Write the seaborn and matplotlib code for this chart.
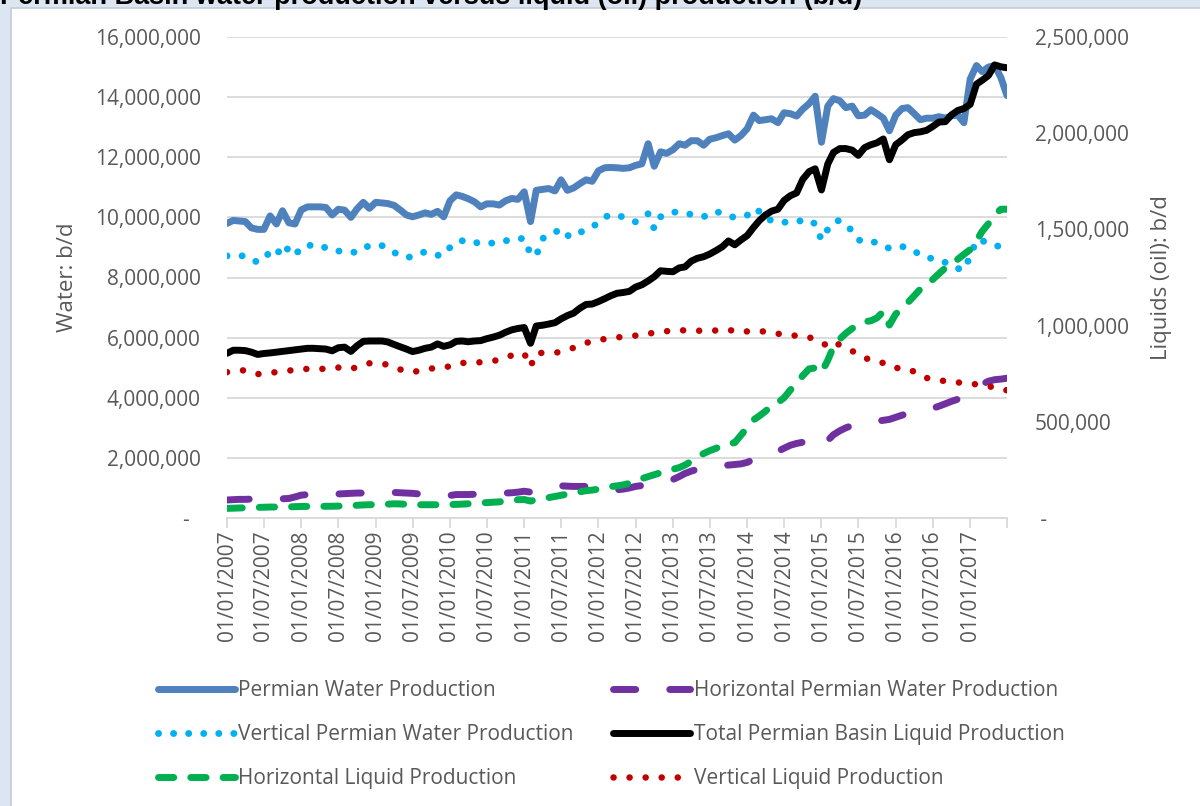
import numpy as np
import pandas as pd
import seaborn as sns
import matplotlib.pyplot as plt
from matplotlib.patches import Rectangle
from matplotlib.ticker import FuncFormatter

# monthly values, Jan 2007 .. Jul 2017
# water series in million b/d (left axis), liquids in thousand b/d (right axis)
permian_water = [
    9.80, 9.90, 9.88, 9.86, 9.65, 9.60, 9.60, 10.05, 9.78, 10.22,
    9.82, 9.78, 10.25, 10.35, 10.35, 10.35, 10.33, 10.08, 10.27, 10.24,
    10.00, 10.28, 10.50, 10.30, 10.50, 10.48, 10.46, 10.40, 10.25, 10.08,
    10.02, 10.08, 10.15, 10.10, 10.20, 10.02, 10.55, 10.75, 10.70, 10.62,
    10.52, 10.35, 10.45, 10.45, 10.41, 10.55, 10.63, 10.60, 10.85, 9.86,
    10.90, 10.93, 10.96, 10.88, 11.25, 10.90, 10.98, 11.12, 11.25, 11.20,
    11.55, 11.65, 11.66, 11.65, 11.63, 11.65, 11.73, 11.78, 12.45, 11.70,
    12.18, 12.13, 12.25, 12.45, 12.40, 12.55, 12.55, 12.40, 12.60, 12.65,
    12.72, 12.78, 12.57, 12.72, 12.95, 13.40, 13.22, 13.25, 13.28, 13.15,
    13.48, 13.45, 13.37, 13.60, 13.78, 14.03, 12.50, 13.70, 13.95, 13.88,
    13.65, 13.70, 13.38, 13.40, 13.58, 13.45, 13.30, 12.88, 13.40, 13.62,
    13.65, 13.45, 13.25, 13.30, 13.30, 13.35, 13.30, 13.38, 13.40, 13.15,
    14.60, 15.05, 14.85, 15.00, 15.05, 14.65, 14.05]

horiz_water = [
    0.60, 0.61, 0.62, 0.62, 0.63, 0.63, 0.64, 0.64, 0.64, 0.64,
    0.65, 0.70, 0.76, 0.78, 0.78, 0.78, 0.78, 0.79, 0.80, 0.81,
    0.82, 0.83, 0.83, 0.84, 0.85, 0.85, 0.85, 0.85, 0.84, 0.83,
    0.82, 0.80, 0.78, 0.74, 0.72, 0.72, 0.75, 0.78, 0.78, 0.78,
    0.79, 0.80, 0.80, 0.81, 0.82, 0.83, 0.84, 0.86, 0.89, 0.86,
    0.92, 0.96, 1.00, 1.04, 1.07, 1.06, 1.05, 1.05, 1.05, 1.00,
    0.96, 0.95, 0.94, 0.94, 0.96, 1.00, 1.05, 1.08, 1.12, 1.15,
    1.18, 1.21, 1.28, 1.38, 1.48, 1.56, 1.62, 1.66, 1.70, 1.72,
    1.74, 1.76, 1.78, 1.80, 1.85, 1.95, 2.05, 2.10, 2.16, 2.22,
    2.32, 2.42, 2.48, 2.52, 2.58, 2.60, 2.38, 2.58, 2.77, 2.90,
    3.00, 3.08, 3.15, 3.18, 3.20, 3.22, 3.25, 3.28, 3.35, 3.42,
    3.48, 3.52, 3.56, 3.60, 3.65, 3.72, 3.80, 3.88, 3.95, 4.00,
    4.10, 4.30, 4.45, 4.55, 4.60, 4.62, 4.65]

vert_water = [
    8.72, 8.72, 8.72, 8.72, 8.62, 8.50, 8.65, 8.84, 8.72, 9.10,
    8.90, 8.72, 9.02, 9.06, 9.08, 9.08, 8.98, 8.89, 8.88, 8.87,
    8.85, 8.83, 8.95, 9.07, 9.07, 9.06, 8.95, 8.83, 8.75, 8.66,
    8.70, 8.80, 8.85, 8.80, 8.74, 8.74, 9.00, 9.19, 9.22, 9.25,
    9.18, 9.12, 9.13, 9.15, 9.16, 9.22, 9.27, 9.29, 9.30, 8.77,
    8.72, 9.30, 9.37, 9.50, 9.62, 9.40, 9.35, 9.50, 9.58, 9.70,
    9.80, 10.00, 10.10, 10.05, 10.02, 9.95, 9.85, 10.00, 10.12, 9.62,
    10.02, 10.10, 10.18, 10.16, 10.13, 10.10, 10.06, 10.02, 10.12, 10.20,
    10.12, 10.04, 10.00, 10.04, 10.07, 10.30, 10.20, 9.95, 9.90, 9.84,
    9.84, 9.84, 9.86, 9.90, 9.92, 9.78, 9.25, 9.60, 9.85, 9.90,
    9.75, 9.55, 9.25, 9.20, 9.21, 9.15, 9.05, 8.97, 9.03, 9.03,
    8.98, 8.88, 8.75, 8.68, 8.62, 8.58, 8.50, 8.38, 8.30, 8.25,
    8.70, 9.25, 9.22, 9.15, 9.06, 9.03, 9.00]

total_liquid = [
    856, 872, 872, 870, 862, 850, 855, 858, 862, 866,
    870, 874, 878, 882, 882, 880, 878, 869, 885, 888,
    866, 895, 918, 920, 920, 920, 915, 902, 890, 878,
    865, 872, 882, 888, 905, 892, 900, 918, 920, 916,
    920, 922, 932, 940, 950, 965, 978, 985, 990, 908,
    998, 1002, 1008, 1015, 1035, 1052, 1065, 1090, 1110, 1112,
    1125, 1140, 1155, 1168, 1172, 1178, 1200, 1212, 1232, 1254,
    1285, 1282, 1280, 1300, 1305, 1335, 1350, 1358, 1372, 1390,
    1410, 1440, 1420, 1445, 1468, 1510, 1545, 1575, 1595, 1605,
    1650, 1675, 1690, 1760, 1800, 1815, 1705, 1840, 1900, 1920,
    1920, 1912, 1885, 1925, 1940, 1950, 1970, 1862, 1940, 1965,
    1992, 2003, 2007, 2015, 2035, 2058, 2060, 2095, 2118, 2128,
    2150, 2255, 2275, 2300, 2355, 2345, 2340]

horiz_liquid = [
    50, 51, 52, 53, 54, 55, 56, 57, 57, 58,
    58, 59, 60, 60, 60, 60, 61, 61, 62, 62,
    64, 66, 68, 69, 70, 71, 72, 74, 73, 71,
    69, 69, 69, 69, 69, 69, 70, 71, 72, 74,
    77, 79, 80, 82, 84, 88, 92, 95, 96, 88,
    95, 102, 106, 112, 118, 124, 130, 136, 142, 145,
    150, 158, 163, 167, 172, 180, 192, 205, 215, 225,
    235, 245, 253, 262, 275, 295, 320, 335, 350, 362,
    378, 385, 392, 430, 470, 510, 530, 555, 585, 600,
    625, 665, 700, 740, 775, 780, 755, 820, 890, 930,
    960, 985, 1005, 1020, 1025, 1040, 1073, 1003, 1060, 1090,
    1120, 1155, 1190, 1210, 1240, 1270, 1300, 1320, 1345, 1370,
    1395, 1440, 1490, 1530, 1575, 1605, 1605]

vert_liquid = [
    758, 762, 766, 768, 758, 748, 750, 755, 758, 762,
    766, 770, 773, 775, 775, 775, 775, 778, 782, 780,
    774, 785, 798, 804, 804, 804, 795, 782, 772, 765,
    758, 765, 772, 777, 779, 780, 790, 800, 806, 806,
    806, 810, 813, 815, 825, 835, 845, 852, 855, 787,
    858, 858, 858, 858, 865, 872, 885, 900, 910, 918,
    926, 930, 935, 939, 941, 943, 948, 953, 958, 963,
    968, 971, 973, 976, 975, 974, 974, 972, 971, 975,
    978, 979, 970, 965, 970, 974, 972, 968, 965, 958,
    952, 948, 948, 948, 940, 925, 915, 891, 912, 900,
    885, 868, 850, 830, 825, 818, 805, 785, 780, 778,
    775, 760, 738, 728, 720, 715, 712, 709, 705, 700,
    697, 695, 690, 685, 678, 668, 664]

dates = pd.date_range("2007-01-01", periods=len(permian_water), freq="MS")

df = pd.DataFrame({
    "date": dates,
    "Permian Water Production": np.array(permian_water) * 1e6,
    "Horizontal Permian Water Production": np.array(horiz_water) * 1e6,
    "Vertical Permian Water Production": np.array(vert_water) * 1e6,
    "Total Permian Basin Liquid Production": np.array(total_liquid) * 1e3,
    "Horizontal Liquid Production": np.array(horiz_liquid) * 1e3,
    "Vertical Liquid Production": np.array(vert_liquid) * 1e3,
})

plt.rcParams["font.family"] = ["Open Sans", "DejaVu Sans"]
grey = "#595959"

fig = plt.figure(figsize=(12, 8.06), dpi=100)
fig.patch.set_facecolor("#DCE6F2")
# white chart area with thin border, the light strip shows at top/left
fig.patches.append(Rectangle((11 / 1200, -0.01), 1.0, 1 - 8 / 806 + 0.01,
                             transform=fig.transFigure, facecolor="white",
                             edgecolor="#C5CCD6", lw=1.2, zorder=-5))

ax = fig.add_axes([227 / 1200, 1 - 518 / 806, 780 / 1200, 481 / 806])
ax2 = ax.twinx()

# (column, axis, colour, width, dash pattern)
series = [
    ("Permian Water Production", ax, "#4F81BD", 5.0, None),
    ("Horizontal Permian Water Production", ax, "#7030A0", 5.0, (3.2, 4.9)),
    ("Vertical Permian Water Production", ax, "#00B0F0", 5.0, (0.01, 2.16)),
    ("Total Permian Basin Liquid Production", ax2, "black", 5.0, None),
    ("Horizontal Liquid Production", ax2, "#00B050", 5.0, (2.2, 2.45)),
    ("Vertical Liquid Production", ax2, "#C00000", 4.7, (0.01, 2.45)),
]

handles = {}
for col, a, color, lw, dash in series:
    sns.lineplot(data=df, x="date", y=col, ax=a, color=color, linewidth=lw)
    ln = a.lines[-1]
    ln.set_solid_capstyle("round")
    ln.set_solid_joinstyle("round")
    if dash is not None:
        ln.set_dashes(dash)
        ln.set_dash_capstyle("round")
    handles[col] = ln

ax.set_ylim(0, 16e6)
ax.set_yticks(np.arange(0, 16e6 + 1, 2e6))
ax2.set_ylim(0, 2.5e6)
ax2.set_yticks(np.arange(0, 2.5e6 + 1, 5e5))
ax.yaxis.set_major_formatter(FuncFormatter(lambda v, p: "-  " if v == 0 else f"{v:,.0f}"))
ax2.yaxis.set_major_formatter(FuncFormatter(lambda v, p: " -" if v == 0 else f"{v:,.0f}"))

ax.set_xlim(dates[0], dates[-1])
xt = pd.date_range("2007-01-01", "2017-07-01", freq="6MS")
ax.set_xticks(xt)
ax.set_xticklabels([d.strftime("%d/%m/%Y") if d.year < 2017 or d.month == 1 else "" for d in xt],
                   rotation=90)

ax.grid(axis="y", color="#D9D9D9", lw=1.3)
ax.grid(axis="x", visible=False)
ax.set_axisbelow(True)
for s in ["left", "right", "top"]:
    ax.spines[s].set_visible(False)
    ax2.spines[s].set_visible(False)
ax2.spines["bottom"].set_visible(False)
ax.spines["bottom"].set_color("#D9D9D9")
ax.spines["bottom"].set_linewidth(1.3)
ax.set_facecolor("none")
ax2.set_facecolor("none")

ax.tick_params(axis="y", length=0, pad=19, labelsize=15, labelcolor=grey)
ax2.tick_params(axis="y", length=0, pad=20, labelsize=15, labelcolor=grey)
ax.tick_params(axis="x", length=7, width=1.3, color="#D9D9D9", pad=2, labelsize=15, labelcolor=grey)

ax.set_xlabel("")
ax.set_ylabel("Water: b/d", fontsize=16, color=grey, labelpad=12)
ax2.set_ylabel("Liquids (oil): b/d", fontsize=16, color=grey, labelpad=16)

fig.text(0.0, 1 - 4 / 806, "Permian Basin water production versus liquid (oil) production (b/d)",
         fontsize=19.5, fontweight="bold", family=["Liberation Sans", "DejaVu Sans"],
         ha="left", va="baseline", color="black")

order = ["Permian Water Production", "Vertical Permian Water Production",
         "Horizontal Liquid Production", "Horizontal Permian Water Production",
         "Total Permian Basin Liquid Production", "Vertical Liquid Production"]
fig.legend([handles[k] for k in order], order, loc="upper left",
           bbox_to_anchor=(158 / 1200, 1 - 680 / 806), ncol=2, frameon=False,
           fontsize=15, labelcolor=grey, handlelength=3.7, handletextpad=0.15,
           columnspacing=1.9, labelspacing=1.1, borderpad=0, borderaxespad=0)

fig.savefig("out.png", dpi=100, facecolor=fig.get_facecolor())
